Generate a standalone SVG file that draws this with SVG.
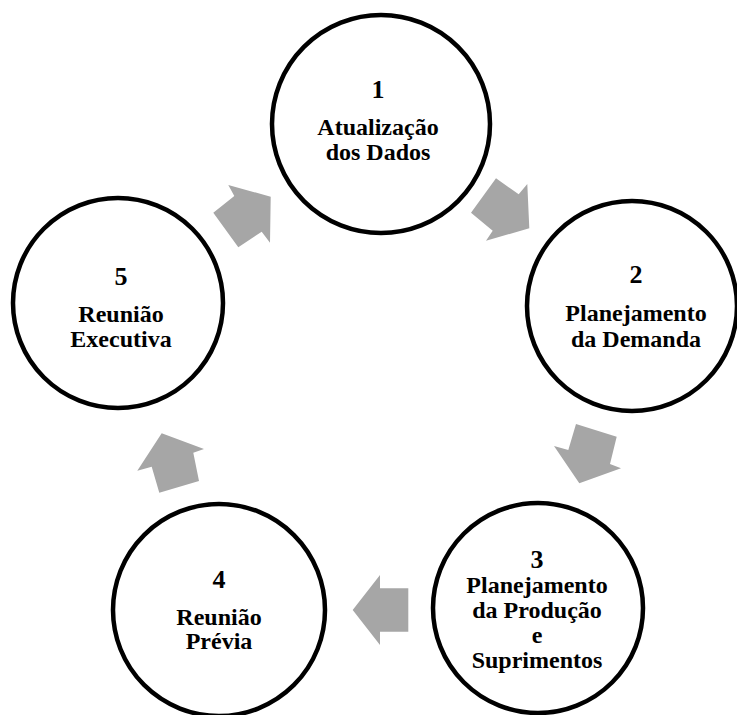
<svg xmlns="http://www.w3.org/2000/svg" width="737" height="715" viewBox="0 0 737 715">
  <style>
    .node circle { fill: #ffffff; stroke: #000000; stroke-width: 4.5; }
    .node text { font-family: "Liberation Serif", "DejaVu Serif", serif; font-weight: bold; fill: #000000; text-anchor: middle; }
    .num { font-size: 26px; }
    .lbl { font-size: 24px; }
    .arrow { fill: #A6A6A6; stroke: none; }
  </style>
  <rect width="737" height="715" fill="#ffffff"/>

  <!-- block arrows between the steps -->
  <g id="connectors">
    <polygon class="arrow" points="496,178.3 518.7,194.3 527.3,184 529.3,228.3 486,240.7 492.7,230.7 471,212.7"/>
    <polygon class="arrow" points="576,424 616.7,436.7 610,464 621,468.3 579.3,483.3 554,446 568.3,450"/>
    <polygon class="arrow" points="380,575 380,588.3 408.3,588.3 408.3,631.7 380,631.7 380,645 352.7,610"/>
    <polygon class="arrow" points="161.7,433.3 204,449 193.3,452.7 199,481 159.3,492.7 151.7,466.7 137.3,470.7"/>
    <polygon class="arrow" points="228.3,185 270.7,196.7 270,242.7 261.7,231.7 238.3,247.3 213.3,212.7 234.3,196"/>
  </g>

  <g id="step1" class="node">
    <circle cx="381" cy="124" r="109"/>
    <text class="num" x="378" y="98">1</text>
    <text class="lbl" x="378" y="135">Atualização</text>
    <text class="lbl" x="378" y="160">dos Dados</text>
  </g>

  <g id="step2" class="node">
    <circle cx="632" cy="306" r="105"/>
    <text class="num" x="636" y="283">2</text>
    <text class="lbl" x="636" y="321">Planejamento</text>
    <text class="lbl" x="636" y="347">da Demanda</text>
  </g>

  <g id="step3" class="node">
    <circle cx="538" cy="608" r="105"/>
    <text class="num" x="537" y="568">3</text>
    <text class="lbl" x="537" y="593">Planejamento</text>
    <text class="lbl" x="537" y="618">da Produção</text>
    <text class="lbl" x="537" y="643">e</text>
    <text class="lbl" x="537" y="668">Suprimentos</text>
  </g>

  <g id="step4" class="node">
    <circle cx="219" cy="610" r="106"/>
    <text class="num" x="219" y="588">4</text>
    <text class="lbl" x="219" y="625">Reunião</text>
    <text class="lbl" x="219" y="649">Prévia</text>
  </g>

  <g id="step5" class="node">
    <circle cx="118" cy="303" r="105"/>
    <text class="num" x="121" y="285">5</text>
    <text class="lbl" x="121" y="322">Reunião</text>
    <text class="lbl" x="121" y="347">Executiva</text>
  </g>
</svg>
